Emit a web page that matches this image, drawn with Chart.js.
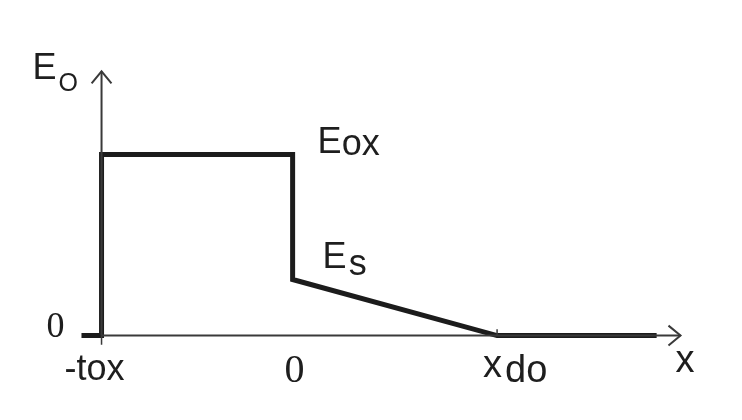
<!DOCTYPE html>
<html>
<head>
<meta charset="utf-8">
<script src="https://cdn.jsdelivr.net/npm/chart.js@4"></script>
<style>
  html, body { margin: 0; padding: 0; background: #fff; }
  #wrap { width: 742px; height: 420px; position: relative; }
</style>
</head>
<body>
<div id="wrap"><canvas id="mychart"></canvas></div>
<script>
// field profile E(x), in units of tox (x) and Eox (y)
const fieldX = [-1.105, -1, -1, 0, 0, 1.07, 1.905];
const fieldY = [0, 0, 1, 1, 0.31, 0, 0];

// axis extents
const yAxisTop = 1.46;
const xAxisEnd = 2.03;

// tick marks and labels along x
const tickValues = [-1, 0, 1.07];
const tickLabels = ['-tox', '0', 'xdo'];

const lineDark = '#1c1c1c';
const axisGray = '#3a3a3a';
const textColor = '#1e1e1e';
const sans = '"Liberation Sans", Arial, sans-serif';
const serif = '"Liberation Serif", "Times New Roman", serif';

const pts = (xs, ys) => xs.map((x, i) => ({ x: x, y: ys[i] }));

const labelsPlugin = {
    id: 'labels',
    afterDatasetsDraw(chart) {
        const ctx = chart.ctx;
        const sx = chart.scales.x, sy = chart.scales.y;
        const px = v => sx.getPixelForValue(v);
        const py = v => sy.getPixelForValue(v);
        ctx.save();
        ctx.fillStyle = textColor;
        ctx.textBaseline = 'alphabetic';

        // y axis name E_O
        const yTop = py(yAxisTop), xAx = px(-1);
        ctx.font = '36px ' + sans;
        ctx.textAlign = 'left';
        ctx.fillText('E', xAx - 69, yTop + 8);
        ctx.font = '25px ' + sans;
        ctx.fillText('O', xAx - 43, yTop + 20);

        // zero on y
        ctx.font = '36px ' + serif;
        ctx.textAlign = 'right';
        ctx.fillText('0', xAx - 37, py(0) + 1.5);

        // x tick labels
        const y0 = py(0);
        ctx.textAlign = 'center';
        ctx.font = '36px ' + sans;
        ctx.fillText(tickLabels[0], px(tickValues[0]) - 7, y0 + 44);
        ctx.font = '40px ' + serif;
        ctx.fillText(tickLabels[1], px(tickValues[1]) + 2, y0 + 46);
        ctx.textAlign = 'left';
        ctx.font = '38px ' + sans;
        const xd = px(tickValues[2]) - 14;
        ctx.fillText(tickLabels[2][0], xd, y0 + 41);
        const w = ctx.measureText(tickLabels[2][0]).width;
        ctx.fillText(tickLabels[2].slice(1), xd + w + 3, y0 + 46);

        // x axis name
        ctx.fillText('x', px(xAxisEnd) - 5, y0 + 36);

        // Eox and Es
        ctx.font = '36px ' + sans;
        const eox = py(fieldY[3]);
        ctx.fillText('E', px(0) + 25, eox - 1.5);
        ctx.fillText('ox', px(0) + 25 + ctx.measureText('E').width, eox + 0.5);
        const es = py(fieldY[4]);
        ctx.fillText('E', px(0) + 30, es - 11.5);
        ctx.fillText('s', px(0) + 32 + ctx.measureText('E').width, es - 4.5);
        ctx.restore();
    }
};

const thin = (data, width) => ({
    data: data,
    borderColor: axisGray,
    borderWidth: width || 2,
    pointRadius: 0,
    tension: 0,
    fill: false
});

const config = {
    type: 'line',
    data: {
        datasets: [
            // axes
            thin(pts([-1, -1], [0, yAxisTop])),
            thin(pts([-1, xAxisEnd], [0, 0])),
            // arrow heads
            thin(pts([-1.052, -1, -0.948], [yAxisTop - 0.066, yAxisTop, yAxisTop - 0.066])),
            thin(pts([xAxisEnd - 0.063, xAxisEnd, xAxisEnd - 0.063], [0.055, 0, -0.055])),
            // tick marks
            thin(pts([tickValues[0], tickValues[0]], [0, -0.05]), 1.5),
            thin(pts([tickValues[2], tickValues[2]], [0, 0.035]), 1.5),
            // field profile
            {
                data: pts(fieldX, fieldY),
                borderColor: lineDark,
                borderWidth: 5,
                borderJoinStyle: 'miter',
                borderCapStyle: 'butt',
                pointRadius: 0,
                tension: 0,
                fill: false
            }
        ]
    },
    options: {
        responsive: true,
        maintainAspectRatio: false,
        animation: false,
        layout: { padding: { left: 6, right: 29, top: 46, bottom: 12 } },
        plugins: {
            legend: { display: false },
            tooltip: { enabled: false },
            title: { display: false }
        },
        scales: {
            x: { type: 'linear', min: -1.5, max: 2.2, display: false },
            y: { type: 'linear', min: -0.4, max: 1.6, display: false }
        }
    },
    plugins: [labelsPlugin]
};

const ctx = document.getElementById('mychart').getContext('2d');
new Chart(ctx, config);
</script>
</body>
</html>
